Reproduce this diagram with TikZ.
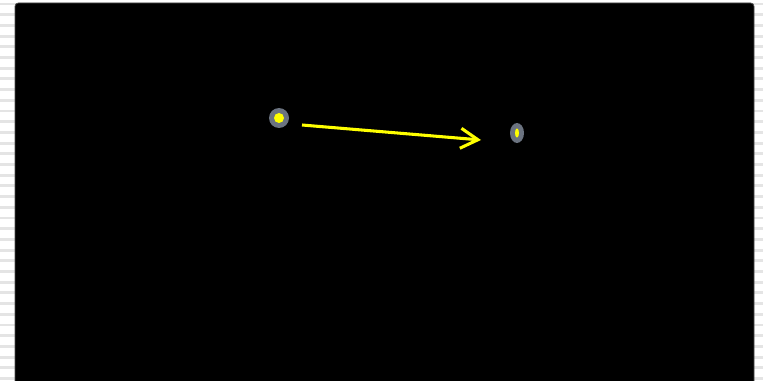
\documentclass[tikz,border=0pt]{standalone}
\usetikzlibrary{arrows.meta,shapes.geometric}
\definecolor{dotgray}{HTML}{6B7380}
\definecolor{dotyellow}{HTML}{FFFF00}
\definecolor{stripegray}{HTML}{E4E4E4}
\begin{document}
\begin{tikzpicture}[
x=0.75pt, y=-0.75pt,
stripe/.style={stripegray, line width=2.2pt},
panel/.style={fill=black, draw=black!70, line width=0.6pt, rounded corners=2.5pt},
outerdot/.style={fill=dotgray, draw=none, inner sep=0pt},
innerdot/.style={fill=dotyellow, draw=none, inner sep=0pt},
move/.style={dotyellow, line width=2.3pt, -{Straight Barb[length=13pt, width=15pt]}}
]
\useasboundingbox (0,0) rectangle (763,381);
\fill[white] (0,0) rectangle (763,381);
% striped backdrop
\foreach \k in {0,...,35}
  \draw[stripe] (0,4+10.7*\k) -- (763,4+10.7*\k);
\draw[panel] (15,3) rectangle (754,390);
% start and end markers
\node (start) [outerdot, circle, minimum size=15pt] at (279,118) {};
\node (startcore) [innerdot, circle, minimum size=7.5pt] at (start) {};
\node (finish) [outerdot, ellipse, minimum width=10.5pt, minimum height=15pt] at (517,133) {};
\node (finishcore) [innerdot, ellipse, minimum width=3pt, minimum height=7pt] at (finish) {};
\coordinate (tail) at (302,125);
\coordinate (head) at (481,140);
\draw[move] (tail) -- (head);
\end{tikzpicture}
\end{document}
